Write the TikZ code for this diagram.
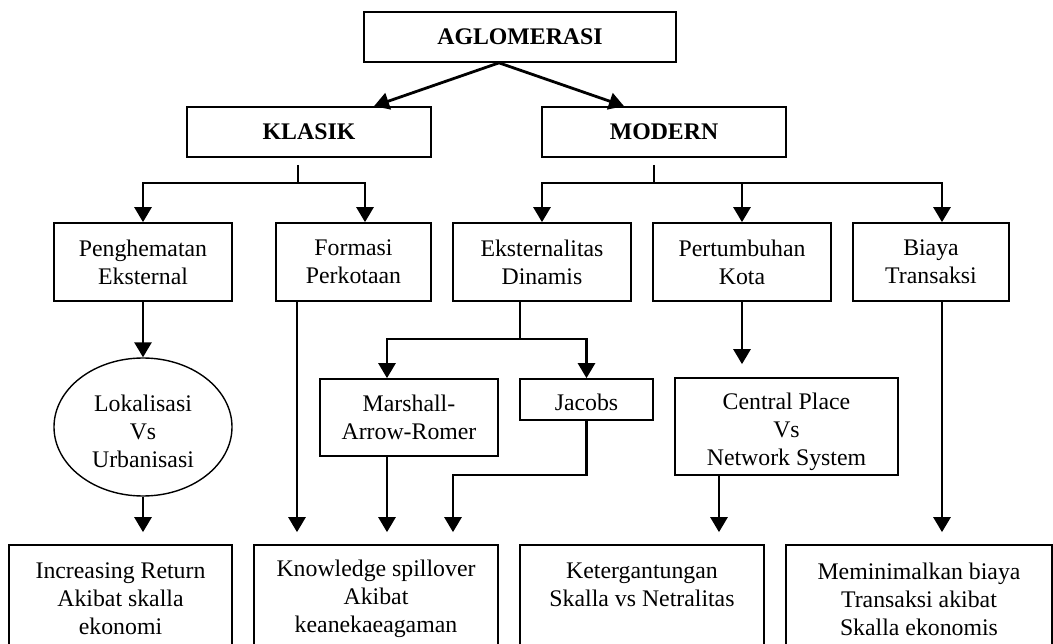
\documentclass[tikz,border=0pt]{standalone}
\usepackage{fontspec}
\setmainfont{Liberation Serif}
\usetikzlibrary{arrows.meta,shapes.geometric}
\begin{document}
\begin{tikzpicture}[x=1pt,y=-1pt,
  every node/.style={font=\fontsize{23.8}{28}\selectfont, inner sep=0pt, align=center},
  box/.style={draw, line width=1.7pt, rectangle},
  oval/.style={draw, line width=1.4pt, ellipse},
  title/.style={font=\fontsize{23.8}{28}\selectfont\bfseries},
  arr/.style={line width=2.8pt, line join=miter, -{Triangle[width=17pt,length=15pt]}},
  stub/.style={line width=1.3pt}]

\useasboundingbox (0,0) rectangle (1053,644);
\clip (0,0) rectangle (1053,644);

% top level
\node[box,title,minimum width=312pt,minimum height=50pt] (agl) at (520,37) {AGLOMERASI};
\node[box,title,minimum width=244pt,minimum height=50pt] (klasik) at (309,132) {KLASIK};
\node[box,title,minimum width=244pt,minimum height=50pt] (modern) at (664,132) {MODERN};

% second level
\node[box,minimum width=178pt,minimum height=78pt] (pengh) at (143,262) {Penghematan\\Eksternal};
\node[box,minimum width=155pt,minimum height=78pt] (formasi) at (353.5,262) {Formasi\\Perkotaan};
\node[box,minimum width=178pt,minimum height=78pt] (ekst) at (542,262) {Eksternalitas\\Dinamis};
\node[box,minimum width=178pt,minimum height=78pt] (pert) at (742,262) {Pertumbuhan\\Kota};
\node[box,minimum width=156pt,minimum height=78pt] (biaya) at (931,262) {Biaya\\Transaksi};

% third level
\node[oval,minimum width=178pt,minimum height=138pt] (lok) at (143,427) {};
\node (lok-t) at (143,431) {Lokalisasi\\Vs\\Urbanisasi};
\node[box,minimum width=178pt,minimum height=77pt] (marsh) at (409,417.5) {Marshall-\\Arrow-Romer};
\node[box,minimum width=133pt,minimum height=41pt] (jac) at (586.5,399.5) {};
\node (jac-t) at (586.5,402) {Jacobs};
\node[box,minimum width=223pt,minimum height=97pt] (central) at (786.5,426.5) {};
\node (central-t) at (786.5,432) {Central Place\\Vs\\Network System};

% bottom level (boxes run past the lower edge)
\node[box,minimum width=223pt,minimum height=135pt] (inc) at (120.5,612.5) {};
\node[box,minimum width=244pt,minimum height=135pt] (know) at (376,612.5) {};
\node[box,minimum width=244pt,minimum height=135pt] (keter) at (642,612.5) {};
\node[box,minimum width=266pt,minimum height=135pt] (memin) at (919,612.5) {};
\node (inc-t) at (120.5,599) {Increasing Return\\Akibat skalla\\ekonomi};
\node (know-t) at (376,599) {Knowledge spillover\\Akibat\\keanekaeagaman};
\node (keter-t) at (642,585) {Ketergantungan\\Skalla vs Netralitas};
\node (memin-t) at (919,599) {Meminimalkan biaya\\Transaksi akibat\\Skalla ekonomis};

% AGLOMERASI split
\draw[arr] ([xshift=-21pt]agl.south) -- ([xshift=65pt]klasik.north);
\draw[arr] ([xshift=-21pt]agl.south) -- ([xshift=-40pt]modern.north);

% KLASIK branches
\coordinate (kj) at (298,183);
\draw[stub] ([xshift=-11pt,yshift=-7pt]klasik.south) -- (kj);
\draw[arr] (kj) -| (pengh.north);
\draw[arr] (kj) -| ([xshift=11.5pt]formasi.north);

% MODERN branches
\coordinate (mj) at (654,183);
\draw[stub] ([xshift=-10pt,yshift=-7pt]modern.south) -- (mj);
\draw[arr] (mj) -| (ekst.north);
\draw[arr] (mj) -| (pert.north);
\draw[arr] (mj) -| ([xshift=11pt]biaya.north);

% left column
\draw[arr] (pengh.south) -- (lok.north);
\draw[arr,shorten >=12pt] (lok.south) -- ([xshift=22.5pt]inc.north);
\draw[arr,shorten >=12pt] ([xshift=-56.5pt]formasi.south) -- ([xshift=-79pt]know.north);

% dynamic externalities
\coordinate (ej) at (520,339);
\draw[stub] ([xshift=-22pt]ekst.south) -- (ej);
\draw[arr] (ej) -| ([xshift=-22pt]marsh.north);
\draw[arr] (ej) -| (jac.north);
\draw[arr,shorten >=12pt] ([xshift=-22pt]marsh.south) -- ([xshift=11pt]know.north);
\coordinate (jb) at (453,475);
\draw[arr,shorten >=12pt] (jac.south) |- (jb) -- ([xshift=77pt]know.north);

% city growth and transaction costs
\draw[arr,shorten >=13pt] (pert.south) -- (pert.south |- central.north);
\draw[arr,shorten >=12pt] ([xshift=-67.5pt]central.south) -- ([xshift=77pt]keter.north);
\draw[arr,shorten >=12pt] ([xshift=11pt]biaya.south) -- ([xshift=23pt]memin.north);

\end{tikzpicture}
\end{document}
